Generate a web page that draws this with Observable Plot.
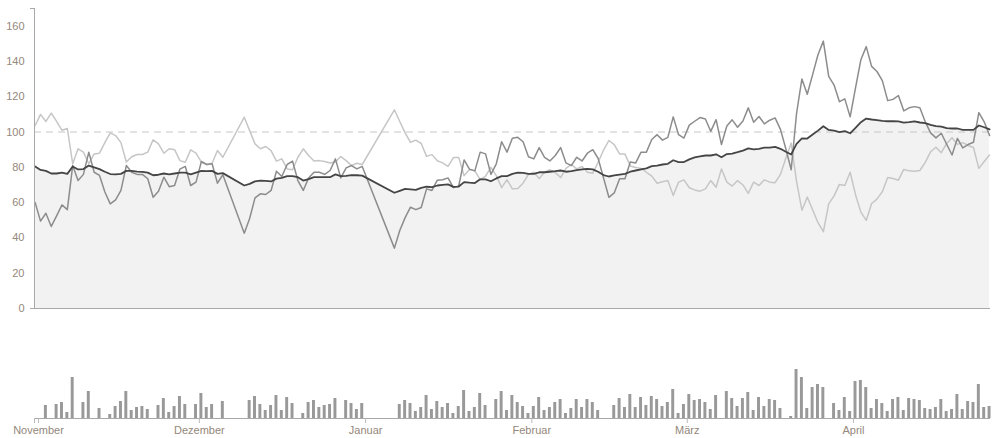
<!DOCTYPE html>
<html><head><meta charset="utf-8">
<script src="https://cdn.jsdelivr.net/npm/d3@7"></script>
<script src="https://cdn.jsdelivr.net/npm/@observablehq/plot@0.6"></script>
<style>
html,body{margin:0;padding:0;background:#fff;}
#chart svg{display:block;}
</style></head><body><div id="chart"></div>
<script>
// Daily series, index 0 = 2011-10-31; null = no data (line joins across)
const startDay = "2011-10-31";
const monthTicks = ["2011-11-01","2011-12-01","2012-01-01","2012-02-01","2012-03-01","2012-04-01"];
const monthLabels = ["November","Dezember","Januar","Februar","März","April"];
const yTicks = [0,20,40,60,80,100,120,140,160];
const refLine = [100];

const dark = [80.5,78.5,78,76.5,76.5,77,76.3,80.5,78.8,79,81,80,79,77.5,76.2,76,76.3,78,78,77.6,77.4,77,75.5,75.8,76.5,76,76.5,77,77,76,77,78,77.8,78,76.3,76.7,null,null,null,69.7,70.6,72,72.5,72.3,72,73.6,74,75,75,74.4,72.5,73.3,74.4,74.4,74.4,74.4,76,75,75.2,75.6,75.5,75.3,null,null,null,null,null,65.6,66.7,67.8,67.5,67.2,68.4,69,68.8,69.7,70,70.3,68.9,69.1,71.6,71.3,71.1,73.2,73.2,72.1,73.7,75,75,76.3,77,76.9,76.3,76.3,77.2,77.2,77.5,77.8,78.2,77.5,77.8,78.4,78.8,79.1,78.8,77.5,75.6,74.8,75.4,75.9,76.3,77.5,78.2,78.9,79.4,80.7,81,81.6,82,84,82.9,83,84.5,85.6,86.2,86.7,86.7,87.4,85.7,87.5,87.8,88.6,89.5,90.7,90.2,90.5,91.2,91.2,91.6,90.5,88.8,87.3,93.3,96.4,96.3,98.6,100.8,103.3,101.2,100.8,99.9,100.5,99.3,102.4,105.6,107.6,107.1,106.8,106.3,106.1,106.2,106,105.3,105.6,106,105.4,105,104,103.4,103.1,102.2,102,102,101.2,101.2,101.2,103.7,102.7,101.5];

const medium = [60,49.5,54,46.5,52.5,58.7,56,81,72.5,76,88.6,77.2,75.4,66,59.3,61.6,66.9,81,77.2,76,76,73.5,63,66.5,74.4,69,69.7,79,80.5,69.7,71.6,83.3,81.6,82,71,75.8,null,null,null,42.7,51,62.7,65,64.6,66.9,77.8,74.8,81.6,83.5,72.5,66.9,74,77.2,77.2,76,78.2,84.8,74,79.7,81,79.1,80.5,null,null,null,null,null,34.2,44.2,51.5,57.4,56,57.2,67.8,66.9,72.7,73,74,68.5,69.5,84.2,79,78,88.6,87.6,76,82,94.5,88.6,96.5,97,94.5,86,84.8,91.2,85.7,83.6,86.7,91.2,82.5,81,85.7,83.6,88,90,85,74,63,65.5,73.5,73.5,83,82.5,88.6,88.6,95.8,98.5,95.4,97,108.6,98.5,96.6,103.9,106.1,108.2,107.4,100.4,107,92.9,103.4,106.9,102.7,106.3,113.7,105.6,108.8,104.6,106.7,108,101.5,90.5,78.6,110.5,130.1,121.4,132.5,143.8,151.5,131.5,126.6,117.2,118.8,108.6,125,141,148.4,137.2,134.3,129.1,117.8,118.5,120.7,112,113.7,114.4,113.8,105.8,99.5,96.7,99.3,93.1,87,96.4,91,92.9,94.2,111,105.8,98];

const light = [103.7,110,106,110.7,106,101,102,82,90.5,88.6,82,87.6,88,94,99.5,98,94,83,86,87.3,87.3,88.6,95.6,93.3,88,90.5,90,83.8,82.9,89.9,88,82.9,81.6,82.3,89.5,85.7,null,null,null,108.4,100.8,93.3,90.5,91.8,89.5,83.5,84.8,79.1,78.6,85.7,90.5,86.7,83.6,83.8,83.3,82.5,83,86.1,83.8,81,82.3,81.6,null,null,null,null,null,112.6,106,99.5,94.2,95.4,93.5,86.2,87.2,83.7,82.5,80.5,85.5,85.6,75.3,78.8,78,73,75,80,75.3,68.5,73,67.8,68,71,76,77.2,73.6,77.2,78.6,77,74.2,79.4,81.6,79.1,80.5,77.2,76.7,82.9,89.7,95.2,92.9,87.6,87.5,80.8,79.9,79.4,77.2,75,71,71.8,72.5,64,71.6,72.9,68.4,67.2,66.5,67.8,72.5,68.7,79.1,71.6,69.4,72.5,70,65.2,71.6,69.7,72.9,71.6,71.3,76,85.2,93.7,72,55.7,63.1,56,48.6,43.5,59.3,63.8,70.3,69.7,77.2,64.5,54.6,49.9,59.5,62,66.2,74.2,73.7,72.7,78.8,78,77.8,78.2,82.8,88.8,91.4,88.3,93.5,96.8,93,94,92.4,91.2,79.4,83.3,87];

const bars = [0,0,13,0,14,16,6,41,0,16,27,0,10,0,4,12,17,27,8,11,12,9,0,13,20,6,12,22,14,0,14,25,11,14,0,17,0,0,0,0,18,22,14,8,13,23,8,21,15,0,5,16,18,11,13,14,20,0,18,15,9,15,0,0,0,0,0,0,14,18,15,7,11,23,9,17,11,15,5,12,28,7,11,25,13,0,19,27,8,23,16,12,5,12,21,8,11,16,19,5,10,19,11,19,16,8,0,0,13,20,11,24,11,21,13,22,19,12,16,29,5,14,24,18,19,16,9,23,0,27,20,12,20,26,8,21,12,19,18,10,0,2,49,41,10,31,34,31,0,15,8,21,7,37,38,31,10,19,15,7,19,21,8,20,19,18,10,9,11,19,7,9,24,9,17,16,34,11,12];

const DAY = 864e5;
const t0 = Date.parse(startDay + "T00:00:00Z");
const rows = dark.map((_, i) => ({
  date: new Date(t0 + (i + 0.375) * DAY),
  b0: new Date(t0 + (i + 0.1) * DAY),
  b1: new Date(t0 + (i + 0.65) * DAY),
  dark: dark[i], medium: medium[i], light: light[i], bar: bars[i]
}));
const defined = k => rows.filter(d => d[k] != null);
const xDomain = [new Date(t0 + 0.25 * DAY), new Date(t0 + 178.55 * DAY)];
const monthDates = monthTicks.map(s => new Date(s + "T00:00:00Z"));
const labelOf = new Map(monthDates.map((d, i) => [+d, monthLabels[i]]));

const font = "'Helvetica Neue', Helvetica, Arial, 'Liberation Sans', sans-serif";
const textColor = "#94877b";
const axisColor = "#a8a8a8";

const main = Plot.plot({
  width: 992, height: 330,
  marginTop: 8, marginBottom: 22, marginLeft: 34, marginRight: 2,
  style: {fontFamily: font, fontSize: "11px", background: "#fff", overflow: "visible"},
  x: {type: "utc", domain: xDomain, axis: null},
  y: {domain: [0, 170], axis: null},
  marks: [
    Plot.areaY(defined("dark"), {x: "date", y: "dark", fill: "#f2f2f2"}),
    Plot.ruleY(refLine, {stroke: "#c8c8c8", strokeWidth: 1, strokeDasharray: "7,5"}),
    Plot.lineY(defined("light"), {x: "date", y: "light", stroke: "#c6c6c6", strokeWidth: 1.5}),
    Plot.lineY(defined("medium"), {x: "date", y: "medium", stroke: "#8c8c8c", strokeWidth: 1.5}),
    Plot.lineY(defined("dark"), {x: "date", y: "dark", stroke: "#454545", strokeWidth: 1.8}),
    Plot.ruleY([0], {stroke: axisColor}),
    Plot.ruleX([xDomain[0]], {stroke: axisColor}),
    Plot.axisY({ticks: yTicks, tickSize: 0, tickPadding: 10, fill: textColor}),
    Plot.axisY({ticks: [0, 170], tickSize: 4, tickFormat: () => "", stroke: axisColor})
  ]
});

const bottom = Plot.plot({
  width: 992, height: 108,
  marginTop: 38, marginBottom: 20, marginLeft: 34, marginRight: 2,
  style: {fontFamily: font, fontSize: "11px", background: "#fff", overflow: "visible"},
  x: {type: "utc", domain: xDomain, axis: null},
  y: {domain: [0, 50], axis: null},
  marks: [
    Plot.rect(rows.filter(d => d.bar > 0), {x1: "b0", x2: "b1", y1: d => 0, y2: "bar", fill: "#999"}),
    Plot.ruleY([0], {stroke: axisColor}),
    Plot.axisX({ticks: [xDomain[0], ...monthDates], tickSize: 5, tickPadding: 3,
      tickFormat: d => labelOf.get(+d) ?? "", stroke: "#bbbbbb", fill: textColor})
  ]
});

const el = document.getElementById("chart");
el.appendChild(main);
el.appendChild(bottom);
</script>
</body></html>
